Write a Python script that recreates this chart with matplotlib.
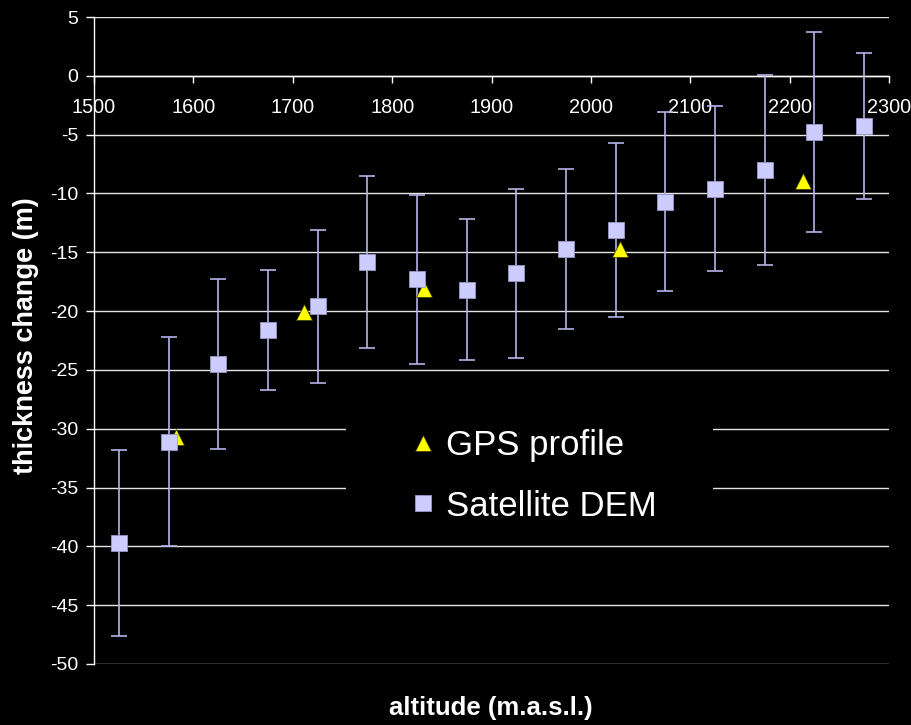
import matplotlib
matplotlib.use("Agg")
import matplotlib.pyplot as plt
from matplotlib.lines import Line2D
from matplotlib.patches import Rectangle

# Satellite DEM: altitude band centres, mean thickness change and uncertainty
dem_alt = [1525, 1575, 1625, 1675, 1725, 1775, 1825, 1875, 1925, 1975,
           2025, 2075, 2125, 2175, 2225, 2275]
dem_change = [-39.7, -31.1, -24.5, -21.6, -19.6, -15.8, -17.3, -18.2, -16.8, -14.7,
              -13.1, -10.7, -9.6, -8.0, -4.8, -4.3]
dem_err = [7.9, 8.9, 7.2, 5.1, 6.5, 7.3, 7.2, 6.0, 7.2, 6.8,
           7.4, 7.6, 7.0, 8.1, 8.5, 6.2]

# GPS profile points
gps_alt = [1583, 1711, 1832, 2029, 2213]
gps_change = [-30.7, -20.1, -18.1, -14.7, -8.9]

x_ticks = [1500, 1600, 1700, 1800, 1900, 2000, 2100, 2200, 2300]
y_ticks = [5, 0, -5, -10, -15, -20, -25, -30, -35, -40, -45, -50]

plt.rcParams["font.family"] = ["Liberation Sans", "DejaVu Sans"]

W, H = 912, 725
fig = plt.figure(figsize=(W / 100, H / 100), dpi=100, facecolor="black")
ax = fig.add_axes([94 / W, 1 - 664 / H, (889 - 94) / W, (664 - 17) / H])
ax.set_facecolor("black")

ax.set_xlim(1500, 2300)
ax.set_ylim(-50, 5)

# horizontal grid
for yv in y_ticks:
    ax.axhline(yv, color="#e6e6e6", lw=1.0, zorder=1)

# black panel behind the legend, masking the grid
ax.add_patch(Rectangle((346 / W, 1 - 525 / H), (713 - 346) / W, (525 - 395) / H,
                       transform=fig.transFigure, facecolor="black",
                       edgecolor="none", zorder=2))

err_col = "#b4b4e6"
ax.errorbar(dem_alt, dem_change, yerr=dem_err, fmt="none", ecolor=err_col,
            elinewidth=1.2, capsize=5.5, capthick=1.2, zorder=3)
ax.plot(gps_alt, gps_change, linestyle="none", marker="^", markersize=11,
        markerfacecolor="#ffff00", markeredgecolor="#333300", markeredgewidth=0.5,
        zorder=4, clip_on=False)
ax.plot(dem_alt, dem_change, linestyle="none", marker="s", markersize=12,
        markerfacecolor="#ccccff", markeredgecolor="#9a9acc", markeredgewidth=0.6,
        zorder=5, clip_on=False)

# axes styling: x axis crossing at zero
for s in ["top", "right"]:
    ax.spines[s].set_visible(False)
ax.spines["bottom"].set_position(("data", 0))
ax.spines["bottom"].set_color("white")
ax.spines["left"].set_color("white")
ax.spines["bottom"].set_linewidth(1.0)
ax.spines["left"].set_linewidth(1.0)

ax.set_xticks(x_ticks)
ax.set_xticklabels([str(v) for v in x_ticks])
ax.set_yticks(y_ticks)
ax.set_yticklabels([str(v) for v in y_ticks])
ax.tick_params(axis="x", colors="white", direction="out", length=5, width=1,
               labelsize=14.3, pad=11)
ax.tick_params(axis="y", colors="white", direction="out", length=6, width=1,
               labelsize=14, pad=5.5)

fig.text(26 / W, 1 - 336 / H, "thickness change (m)", rotation=90, color="white",
         fontsize=19.5, fontweight="bold", ha="center", va="center")
fig.text(491 / W, 1 - 708 / H, "altitude (m.a.s.l.)", color="white",
         fontsize=18.5, fontweight="bold", ha="center", va="center")

handles = [
    Line2D([], [], linestyle="none", marker="^", markersize=11.5,
           markerfacecolor="#ffff00", markeredgecolor="#333300", markeredgewidth=0.5),
    Line2D([], [], linestyle="none", marker="s", markersize=12,
           markerfacecolor="#ccccff", markeredgecolor="#9a9acc", markeredgewidth=0.6),
]
leg = ax.legend(handles, ["GPS profile", "Satellite DEM"], loc="center",
                bbox_to_anchor=(529 / W, 1 - 476 / H), bbox_transform=fig.transFigure,
                frameon=False, fontsize=25, labelcolor="white", handletextpad=0.06,
                labelspacing=0.78, borderpad=0, borderaxespad=0,
                handlelength=1.2)
leg.set_zorder(6)

fig.savefig("out.png", dpi=100, facecolor="black")
